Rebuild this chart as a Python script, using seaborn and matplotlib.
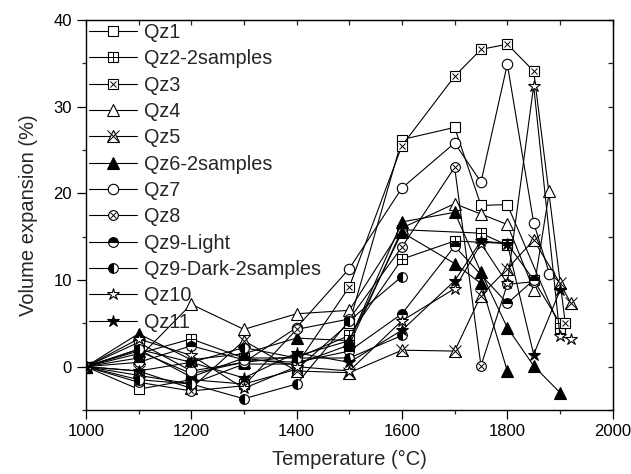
import matplotlib
matplotlib.use("Agg")
import matplotlib.pyplot as plt
from matplotlib.lines import Line2D
from matplotlib.legend_handler import HandlerTuple
from matplotlib.ticker import MultipleLocator
import pandas as pd
import seaborn as sns

# data (temperature in C, volume expansion in %)
t_qz1 = [1000, 1100, 1200, 1300, 1400, 1500, 1600, 1700, 1750, 1800, 1900]
v_qz1 = [0, -2.6, -1.5, -2.0, -0.3, 5.0, 26.2, 27.6, 18.6, 18.7, 4.5]

t_qz2a = [1000, 1100, 1200, 1300, 1400, 1500, 1600, 1700, 1800, 1850, 1900]
v_qz2a = [0, 1.5, 3.2, 1.0, 1.0, 3.6, 12.4, 14.5, 14.2, 10.0, 5.0]
t_qz2b = [1000, 1100, 1200, 1300, 1400, 1500, 1600, 1750, 1800]
v_qz2b = [0, -1.0, -2.0, 0.3, 0.3, 2.5, 15.8, 15.4, 14.0]

t_qz3 = [1000, 1100, 1200, 1300, 1400, 1500, 1600, 1700, 1750, 1800, 1850, 1910]
v_qz3 = [0, 2.0, -1.2, 1.0, 0.2, 9.2, 25.5, 33.5, 36.6, 37.2, 34.1, 5.0]

t_qz4 = [1000, 1100, 1200, 1300, 1400, 1500, 1600, 1700, 1750, 1800, 1850, 1880]
v_qz4 = [0, 1.0, 7.2, 4.3, 6.1, 6.5, 16.0, 18.8, 17.6, 16.4, 8.9, 20.3]

t_qz5 = [1000, 1100, 1200, 1300, 1400, 1500, 1600, 1700, 1750, 1800, 1850, 1900, 1920]
v_qz5 = [0, -0.5, -2.5, 3.0, -0.5, -0.7, 1.9, 1.8, 8.2, 11.3, 14.6, 9.6, 7.4]

t_qz6a = [1000, 1100, 1200, 1300, 1400, 1500, 1600, 1700, 1750, 1800, 1850, 1900]
v_qz6a = [0, 3.8, 0.8, 1.5, 3.3, 3.0, 16.7, 17.8, 10.9, 4.5, 0.1, -3.0]
t_qz6b = [1000, 1100, 1200, 1300, 1400, 1500, 1600, 1700, 1750, 1800]
v_qz6b = [0, 1.8, -0.8, 0.5, 1.2, 3.0, 15.5, 11.9, 9.6, -0.5]

t_qz7 = [1000, 1100, 1200, 1300, 1400, 1500, 1600, 1700, 1750, 1800, 1850, 1880]
v_qz7 = [0, 2.8, -0.5, 0.5, 4.5, 11.3, 20.6, 25.8, 21.3, 34.9, 16.6, 10.7]

t_qz8 = [1000, 1100, 1200, 1300, 1400, 1500, 1600, 1700, 1750, 1800, 1850]
v_qz8 = [0, -1.8, -2.8, -2.2, 4.3, 5.5, 13.8, 23.0, 0.1, 9.5, 9.8]

t_qz9l = [1000, 1100, 1200, 1300, 1400, 1500, 1600, 1700, 1800, 1850]
v_qz9l = [0, 0.5, 2.4, 0.8, 0.5, 1.8, 6.1, 13.9, 7.3, 10.0]

t_qz9da = [1000, 1100, 1200, 1300, 1400, 1500, 1600]
v_qz9da = [0, -1.5, -2.0, -3.7, -2.0, 5.3, 10.4]
t_qz9db = [1000, 1100, 1200, 1300, 1400, 1500, 1600]
v_qz9db = [0, 2.0, 0.5, 2.2, 1.0, 1.0, 3.6]

t_qz10 = [1000, 1100, 1200, 1300, 1400, 1500, 1600, 1700, 1750, 1800, 1850, 1900, 1920]
v_qz10 = [0, 3.2, 1.3, -2.5, 0.0, -0.5, 5.3, 9.0, 14.2, 9.6, 32.4, 3.5, 3.2]

t_qz11 = [1000, 1100, 1200, 1300, 1400, 1500, 1600, 1700, 1750, 1800, 1850, 1900]
v_qz11 = [0, -0.5, 0.5, -1.3, 1.6, 0.5, 4.2, 9.9, 14.5, 14.2, 1.4, 8.8]

sns.set_style("ticks")
plt.rcParams["font.family"] = ["Liberation Sans", "DejaVu Sans"]

fig = plt.figure(figsize=(6.31, 4.74), dpi=100)
ax = fig.add_axes([0.136, 0.135, 0.835, 0.823])

# marker layers per series: (marker, size, kwargs)
open_kw = dict(markerfacecolor="white", markeredgecolor="black", markeredgewidth=0.8)
sq = ("s", 6.5, open_kw)
plus = ("+", 6.5, dict(markeredgecolor="black", markeredgewidth=0.7))
cross = ("x", 5.0, dict(markeredgecolor="black", markeredgewidth=0.7))
bigx = ("x", 8.5, dict(markeredgecolor="black", markeredgewidth=0.7))
tri = ("^", 8, open_kw)
tri_f = ("^", 8, dict(markerfacecolor="black", markeredgecolor="black", markeredgewidth=0.8))
circ = ("o", 7.5, open_kw)
circ_s = ("o", 7, open_kw)
half_top = ("o", 7, dict(markerfacecolor="black", markerfacecoloralt="white", fillstyle="top",
                         markeredgecolor="black", markeredgewidth=0.8))
half_left = ("o", 7, dict(markerfacecolor="black", markerfacecoloralt="white", fillstyle="left",
                          markeredgecolor="black", markeredgewidth=0.8))
star = ("*", 9, open_kw)
star_f = ("*", 9, dict(markerfacecolor="black", markeredgecolor="black", markeredgewidth=0.8))

series = [
    ("Qz1", [(t_qz1, v_qz1)], [sq]),
    ("Qz2-2samples", [(t_qz2a, v_qz2a), (t_qz2b, v_qz2b)], [sq, plus]),
    ("Qz3", [(t_qz3, v_qz3)], [sq, cross]),
    ("Qz4", [(t_qz4, v_qz4)], [tri]),
    ("Qz5", [(t_qz5, v_qz5)], [tri, bigx]),
    ("Qz6-2samples", [(t_qz6a, v_qz6a), (t_qz6b, v_qz6b)], [tri_f]),
    ("Qz7", [(t_qz7, v_qz7)], [circ]),
    ("Qz8", [(t_qz8, v_qz8)], [circ_s, cross]),
    ("Qz9-Light", [(t_qz9l, v_qz9l)], [half_top]),
    ("Qz9-Dark-2samples", [(t_qz9da, v_qz9da), (t_qz9db, v_qz9db)], [half_left]),
    ("Qz10", [(t_qz10, v_qz10)], [star]),
    ("Qz11", [(t_qz11, v_qz11)], [star_f]),
]

handles, labels = [], []
for name, lines, layers in series:
    for temps, vals in lines:
        df = pd.DataFrame({"T": temps, "V": vals})
        for i, (mk, ms, kw) in enumerate(layers):
            sns.lineplot(data=df, x="T", y="V", ax=ax, color="black", errorbar=None,
                         sort=False, marker=mk, markersize=ms,
                         linewidth=0.8 if i == 0 else 0,
                         linestyle="-" if i == 0 else "none", **kw)
    parts = []
    for i, (mk, ms, kw) in enumerate(layers):
        parts.append(Line2D([], [], color="black", marker=mk, markersize=ms,
                            linewidth=0.8 if i == 0 else 0, **kw))
    handles.append(tuple(parts))
    labels.append(name)

ax.legend(handles, labels, loc="upper left", frameon=False, fontsize=14.3,
          handler_map={tuple: HandlerTuple(ndivide=1, pad=0)},
          handlelength=2.45, handletextpad=0.35, labelspacing=0.37,
          borderaxespad=0.1, borderpad=0.05, bbox_to_anchor=(0, 1))

ax.set_xlim(1000, 2000)
ax.set_ylim(-5, 40)
ax.xaxis.set_major_locator(MultipleLocator(200))
ax.xaxis.set_minor_locator(MultipleLocator(100))
ax.yaxis.set_major_locator(MultipleLocator(10))
ax.yaxis.set_minor_locator(MultipleLocator(5))
ax.tick_params(which="major", direction="out", length=6.5, width=0.9, labelsize=12, colors="black")
ax.tick_params(which="minor", direction="out", length=3, width=0.9)

# inward ticks on the top and right
top = ax.secondary_xaxis("top")
top.xaxis.set_major_locator(MultipleLocator(200))
top.xaxis.set_minor_locator(MultipleLocator(100))
top.tick_params(which="both", direction="in", length=3.5, width=0.9, labeltop=False)
right = ax.secondary_yaxis("right")
right.yaxis.set_major_locator(MultipleLocator(10))
right.yaxis.set_minor_locator(MultipleLocator(5))
right.tick_params(which="both", direction="in", length=3.5, width=0.9, labelright=False)

for sp in ax.spines.values():
    sp.set_linewidth(1.0)
    sp.set_color("black")

ax.set_xlabel("Temperature (°C)", fontsize=14.5, labelpad=8)
ax.set_ylabel("Volume expansion (%)", fontsize=14.5, labelpad=11)

fig.savefig("out.png", dpi=100)
